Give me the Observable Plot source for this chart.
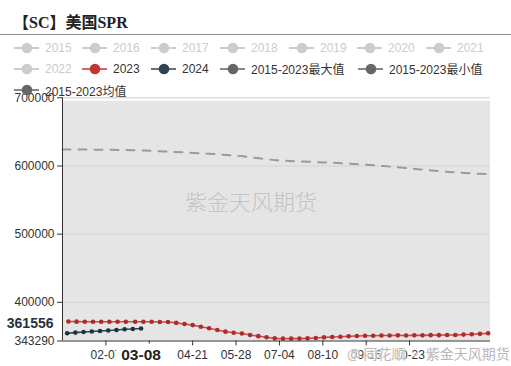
<!DOCTYPE html>
<html>
<head>
<meta charset="utf-8">
<script src="https://cdn.jsdelivr.net/npm/d3@7"></script>
<script src="https://cdn.jsdelivr.net/npm/@observablehq/plot@0.6"></script>
<style>
  html, body { margin: 0; padding: 0; background: #fff; }
  #wrap { position: relative; width: 511px; height: 366px; overflow: hidden;
    font-family: "Liberation Sans", Arial, "Noto Sans CJK SC", sans-serif; }
  #chart { position: absolute; left: 0; top: 0; }
  #title { position: absolute; left: 13px; top: 9px; font-family: "Liberation Serif", "Noto Sans CJK SC", serif;
    font-weight: bold; font-size: 16px; color: #222; white-space: nowrap; }
  #rule { position: absolute; left: 0; top: 34px; width: 511px; height: 0; border-top: 1.5px solid #8a8a8a; }
  .lg { position: absolute; height: 14px; display: flex; align-items: center; font-size: 12px; white-space: nowrap; }
  .lg svg { margin-right: 6px; }
  .wm1 { position: absolute; left: 185px; top: 184px; font-family: "Noto Sans CJK SC", sans-serif; font-weight: 300;
    font-size: 22px; color: #c4c4c4; white-space: nowrap; }
  .wm2 { position: absolute; left: 347px; top: 343px; font-family: "Noto Sans CJK SC", sans-serif;
    font-size: 14px; color: #b8b8b8; white-space: nowrap;
    text-shadow: 0 0 2px #fff, 0 0 2px #fff, 0 0 3px #fff; }
</style>
</head>
<body>
<div id="wrap">
  <div id="chart"></div>
  <div id="title">【SC】美国SPR</div>
  <div id="rule"></div>
  <div id="legend"></div>
  <div class="wm1">紫金天风期货</div>
  <div class="wm2">@ 同花顺 · 紫金天风期货</div>
</div>
<script>
// ---------- data ----------
const dates2023 = ["01-06","01-13","01-20","01-27","02-03","02-10","02-17","02-24","03-03","03-10","03-17","03-24","03-31",
  "04-07","04-14","04-21","04-28","05-05","05-12","05-19","05-26","06-02","06-09","06-16","06-23","06-30",
  "07-07","07-14","07-21","07-28","08-04","08-11","08-18","08-25","09-01","09-08","09-15","09-22","09-29",
  "10-06","10-13","10-20","10-27","11-03","11-10","11-17","11-24","12-01","12-08","12-15","12-22","12-29"];
const values2023 = [372000,371700,371600,371600,371600,371600,371600,371600,371600,371600,371600,371200,371200,
  369900,368200,366600,364300,362000,359500,357000,355400,354400,352000,350400,348800,347200,
  346800,346800,346800,347200,347800,348600,349100,349600,350300,350600,350900,351100,351300,
  351400,351600,351300,351700,351600,351900,351900,352100,352200,352700,353100,353800,354700];
const dates2024 = ["01-05","01-12","01-19","01-26","02-02","02-09","02-16","02-23","03-01","03-08"];
const values2024 = [354700,355600,356400,357200,358000,358800,359500,360500,361000,361556];
const meanDates = ["01-01","02-01","03-01","04-01","05-01","06-01","07-01","08-01","09-01","10-01","11-01","12-01","12-29"];
const meanValues = [624300,623900,623200,621000,618300,614500,608500,606000,603500,599800,595000,590600,588000];
const maxDates = ["01-01","02-01","03-01","04-01","05-01","06-01","07-01","08-01","09-01","10-01","11-01","12-01","12-31"];
const maxValues = [694800,694800,694900,694900,695000,695000,695000,695000,695000,695100,695100,695100,695100];
const yTicks = [700000,600000,500000,400000,343290];
const xTickLabels = ["02-07","03-15","04-21","05-28","07-04","08-10","09-16","10-23"];
const pointerDate = "03-08";
const pointerValue = 361556;

const legendNames = ["2015","2016","2017","2018","2019","2020","2021","2022","2023","2024","2015-2023最大值","2015-2023最小值","2015-2023均值"];
const legendColors = ["#ccc","#ccc","#ccc","#ccc","#ccc","#ccc","#ccc","#ccc","#c23531","#2f4554","#666","#666","#666"];

// ---------- helpers ----------
const parse = s => new Date(`2024-${s}T00:00:00Z`);
const rows = (ds, vs) => ds.map((d, i) => ({date: parse(d), v: vs[i]}));
const r2023 = rows(dates2023, values2023);
const r2024 = rows(dates2024, values2024);
const rMean = rows(meanDates, meanValues);
const rMax = rows(maxDates, maxValues);
const fmt = d3.utcFormat("%m-%d");
const pointerRow = [{date: parse(pointerDate), v: pointerValue, label: pointerDate}];

const chart = Plot.plot({
  width: 511, height: 366,
  marginTop: 97.3, marginBottom: 25.5, marginLeft: 62, marginRight: 21,
  style: {fontFamily: '"Liberation Sans", Arial, "Noto Sans CJK SC", sans-serif', fontSize: "12px", color: "#333", background: "transparent", overflow: "visible"},
  x: {type: "utc", domain: [parse("01-01"), parse("12-31")], axis: null, label: null},
  y: {domain: [343290, 700000], axis: null, label: null},
  marks: [
    Plot.areaY(rMax, {x: "date", y1: 343290, y2: "v", fill: "#e5e5e5"}),
    Plot.ruleY([400000, 500000, 600000], {stroke: "#d3d3d3"}),
    Plot.ruleY([700000], {stroke: "#dcdcdc", strokeWidth: 1.5}),
    Plot.line(rMean, {x: "date", y: "v", stroke: "#9a9a9a", strokeWidth: 2, strokeDasharray: "8,8", curve: "monotone-x"}),
    Plot.line(r2023, {x: "date", y: "v", stroke: "#c23531", strokeWidth: 1.6, strokeOpacity: 0.85}),
    Plot.dot(r2023, {x: "date", y: "v", r: 2.3, fill: "#b02a2a"}),
    Plot.line(r2024, {x: "date", y: "v", stroke: "#2f4554", strokeWidth: 1.6}),
    Plot.dot(r2024, {x: "date", y: "v", r: 2.3, fill: "#22333f"}),
    Plot.ruleX([parse("01-01")], {stroke: "#333"}),
    Plot.ruleY([343290], {stroke: "#333"}),
    Plot.axisY({ticks: yTicks, tickSize: 5, tickPadding: 3, tickFormat: d => String(d), fill: "#333", stroke: "#333", label: null}),
    Plot.axisX({ticks: xTickLabels.map(parse), tickSize: 5, tickPadding: 4, tickFormat: fmt, fill: "#333", stroke: "#333", label: null}),
    Plot.text(pointerRow, {x: "date", frameAnchor: "bottom", text: "label", dy: 19, fontWeight: "bold", fontSize: 15.5,
      fill: "#222", stroke: "#fff", strokeWidth: 13, paintOrder: "stroke"}),
    Plot.text(pointerRow, {y: "v", frameAnchor: "left", text: d => String(d.v), textAnchor: "end", dx: -9, dy: -5,
      fontWeight: "bold", fontSize: 14, fill: "#26333f", stroke: "#fff", strokeWidth: 3, paintOrder: "stroke"})
  ]
});
document.getElementById("chart").appendChild(chart);

// ---------- legend ----------
const pos = [[14,47.5],[82,47.5],[151,47.5],[220,47.5],[289,47.5],[357,47.5],[426,47.5],
             [14,68.5],[82,68.5],[151,68.5],[220,68.5],[358,68.5],[14,90]];
const lg = document.getElementById("legend");
legendNames.forEach((name, i) => {
  const c = legendColors[i];
  const active = c !== "#ccc";
  const lineC = c === "#666" ? "#888" : c;
  const div = document.createElement("div");
  div.className = "lg";
  div.style.left = pos[i][0] + "px";
  div.style.top = (pos[i][1] - 7) + "px";
  div.style.color = active ? "#333" : "#ccc";
  div.innerHTML = `<svg width="25" height="14"><line x1="0" y1="7" x2="25" y2="7" stroke="${lineC}" stroke-width="2" stroke-opacity="${active && c !== '#666' ? 0.75 : 1}"/><circle cx="13" cy="7" r="5.3" fill="${c}"/></svg><span>${name}</span>`;
  lg.appendChild(div);
});
</script>
</body>
</html>
